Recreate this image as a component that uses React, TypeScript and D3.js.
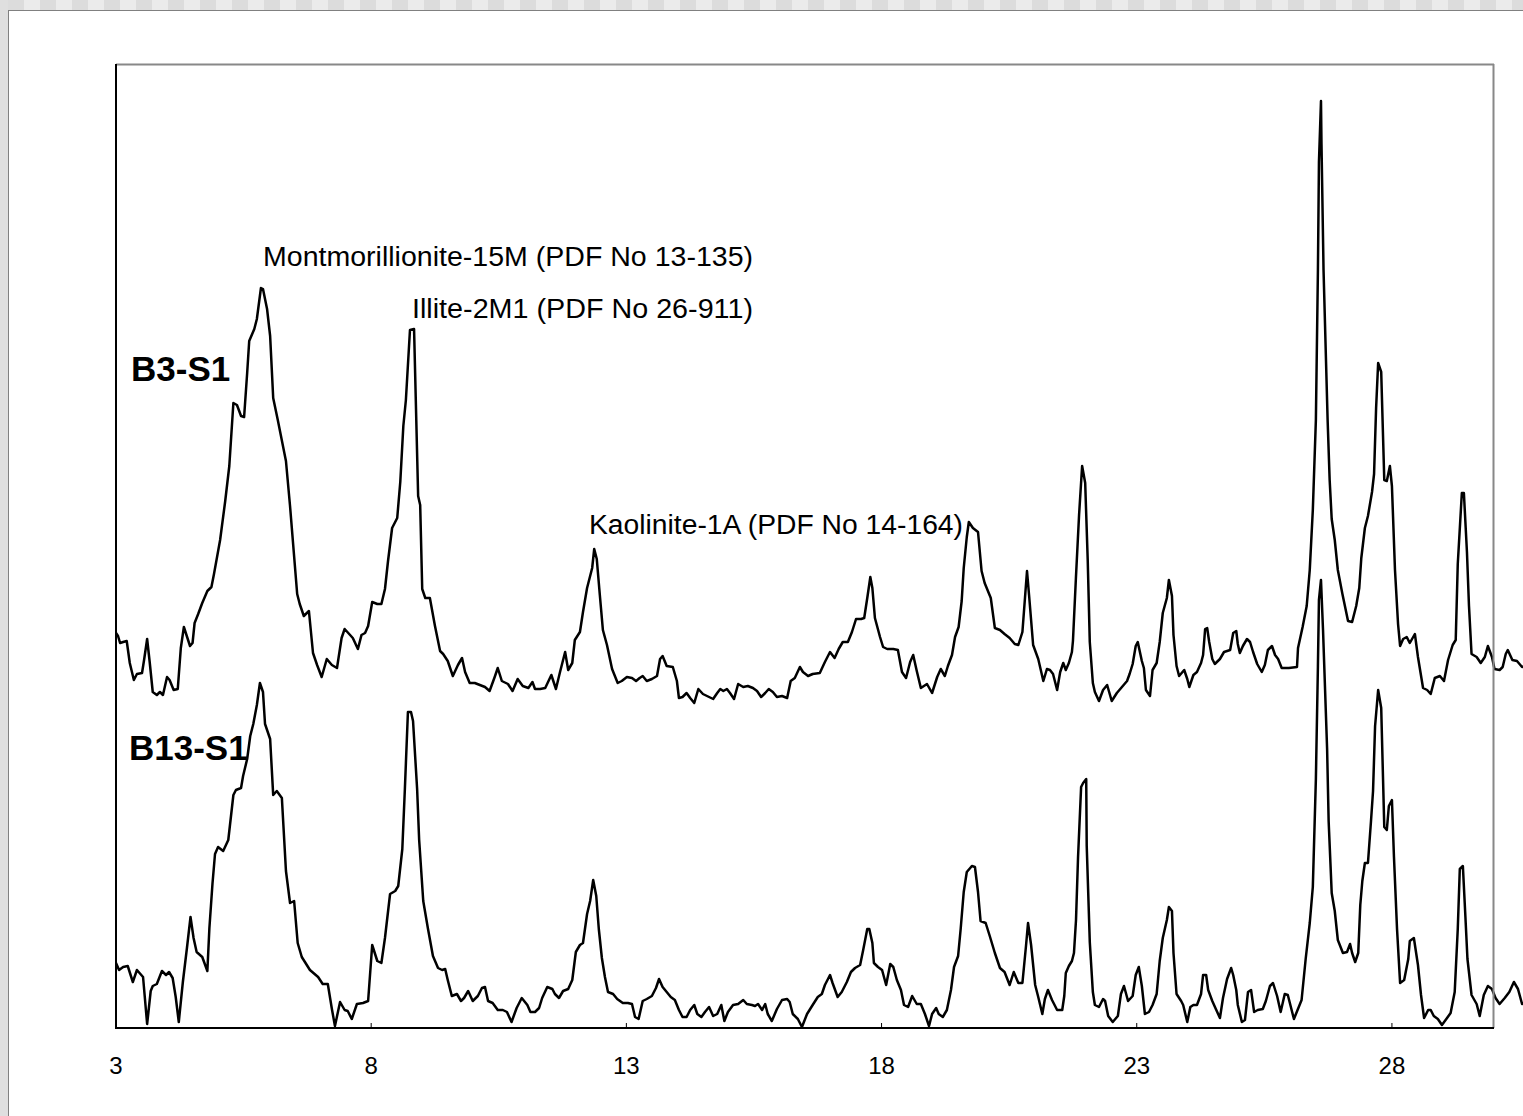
import React from "react";
import * as d3 from "d3";

const WIDTH = 1523;
const HEIGHT = 1116;

const twoThetaTicks = [3, 8, 13, 18, 23, 28];
const sampleNames = ["B3-S1", "B13-S1"];
const phaseNames = [
  "Montmorillionite-15M (PDF No 13-135)",
  "Illite-2M1 (PDF No 26-911)",
  "Kaolinite-1A (PDF No 14-164)",
];

// [2theta, intensity (a.u.)]
const b3s1: [number, number][] = [
  [3.00,395],[3.04,392],[3.08,385],[3.14,386],[3.21,387],[3.27,365],[3.35,348],[3.41,354],[3.51,355],[3.55,368],
  [3.61,389],[3.66,366],[3.72,336],[3.80,333],[3.86,336],[3.92,333],[4.00,351],[4.05,348],[4.13,338],[4.21,339],
  [4.27,380],[4.33,401],[4.45,382],[4.50,385],[4.54,405],[4.61,414],[4.69,425],[4.79,437],[4.87,441],[4.92,454],
  [5.04,488],[5.14,527],[5.22,562],[5.30,625],[5.37,623],[5.45,612],[5.51,611],[5.57,655],[5.61,687],[5.71,699],
  [5.76,709],[5.84,740],[5.88,739],[5.96,719],[6.02,692],[6.08,630],[6.17,608],[6.33,567],[6.41,522],[6.55,434],
  [6.60,424],[6.68,412],[6.78,417],[6.86,375],[6.94,363],[7.03,351],[7.13,369],[7.23,363],[7.33,360],[7.42,390],
  [7.48,399],[7.64,390],[7.74,379],[7.81,393],[7.88,395],[7.94,402],[8.02,426],[8.12,424],[8.20,424],[8.27,439],
  [8.33,467],[8.41,500],[8.51,510],[8.57,546],[8.63,602],[8.68,628],[8.76,698],[8.84,699],[8.92,532],[8.96,523],
  [9.00,439],[9.06,430],[9.15,430],[9.25,402],[9.35,377],[9.41,374],[9.50,367],[9.60,352],[9.70,363],[9.78,370],
  [9.84,356],[9.93,345],[10.03,345],[10.13,343],[10.23,341],[10.32,337],[10.42,351],[10.48,360],[10.56,347],[10.68,344],
  [10.77,337],[10.87,349],[10.97,342],[11.08,340],[11.16,346],[11.21,339],[11.31,339],[11.41,340],[11.53,353],[11.62,339],
  [11.70,356],[11.80,376],[11.86,358],[11.94,365],[11.99,388],[12.09,396],[12.15,416],[12.23,440],[12.33,460],[12.37,479],
  [12.42,469],[12.48,433],[12.54,398],[12.62,383],[12.72,359],[12.83,345],[12.91,347],[13.01,351],[13.11,350],[13.19,347],
  [13.26,350],[13.32,352],[13.40,347],[13.50,349],[13.60,352],[13.66,369],[13.71,372],[13.79,362],[13.91,361],[13.99,347],
  [14.03,330],[14.10,331],[14.18,335],[14.25,330],[14.33,325],[14.41,339],[14.50,334],[14.58,332],[14.70,329],[14.78,335],
  [14.84,339],[14.90,337],[14.97,339],[15.03,335],[15.11,329],[15.19,344],[15.29,341],[15.38,342],[15.48,340],[15.56,337],
  [15.64,331],[15.72,335],[15.79,339],[15.87,336],[15.95,331],[16.05,332],[16.15,330],[16.22,347],[16.30,350],[16.40,361],
  [16.46,356],[16.56,352],[16.65,354],[16.79,355],[16.89,366],[16.99,376],[17.08,370],[17.16,379],[17.24,386],[17.34,386],
  [17.42,396],[17.50,409],[17.60,409],[17.66,410],[17.72,430],[17.78,451],[17.82,440],[17.87,410],[17.97,391],[18.03,381],
  [18.11,379],[18.23,379],[18.32,378],[18.40,356],[18.48,350],[18.56,366],[18.62,373],[18.69,357],[18.77,340],[18.89,344],
  [18.99,335],[19.09,351],[19.16,359],[19.24,352],[19.30,362],[19.38,373],[19.44,391],[19.51,401],[19.57,427],[19.61,460],
  [19.67,491],[19.71,506],[19.79,500],[19.89,496],[19.96,457],[20.02,445],[20.14,430],[20.22,400],[20.32,398],[20.41,394],
  [20.51,390],[20.61,384],[20.68,383],[20.76,396],[20.81,430],[20.85,457],[20.89,433],[20.97,383],[21.07,369],[21.17,347],
  [21.24,359],[21.30,358],[21.36,354],[21.44,338],[21.50,356],[21.56,365],[21.61,358],[21.67,365],[21.73,376],[21.75,387],
  [21.81,452],[21.87,513],[21.93,562],[21.99,545],[22.04,467],[22.08,386],[22.14,345],[22.18,336],[22.26,327],[22.34,338],
  [22.42,343],[22.51,327],[22.61,335],[22.71,341],[22.81,347],[22.86,354],[22.92,364],[22.98,382],[23.02,386],[23.10,367],
  [23.14,360],[23.18,338],[23.26,332],[23.31,358],[23.39,365],[23.45,386],[23.51,415],[23.59,430],[23.63,448],[23.69,432],
  [23.72,393],[23.78,362],[23.83,352],[23.93,358],[23.99,349],[24.03,341],[24.11,353],[24.18,356],[24.26,365],[24.30,373],
  [24.34,399],[24.38,400],[24.42,386],[24.48,369],[24.53,364],[24.63,369],[24.71,376],[24.83,378],[24.89,395],[24.95,397],
  [24.98,384],[25.02,375],[25.08,382],[25.16,389],[25.22,386],[25.28,376],[25.36,364],[25.45,356],[25.51,363],[25.57,378],
  [25.65,382],[25.71,373],[25.77,369],[25.84,360],[25.98,360],[26.14,361],[26.16,380],[26.25,401],[26.33,422],[26.39,458],
  [26.45,518],[26.51,608],[26.55,758],[26.57,866],[26.61,927],[26.62,884],[26.66,758],[26.74,608],[26.78,548],[26.82,509],
  [26.88,488],[26.94,458],[27.03,434],[27.14,407],[27.22,406],[27.30,422],[27.36,440],[27.40,470],[27.47,500],[27.53,512],
  [27.61,536],[27.65,554],[27.69,620],[27.73,665],[27.79,656],[27.85,548],[27.90,547],[27.96,562],[28.00,542],[28.06,458],
  [28.12,404],[28.16,382],[28.22,389],[28.29,391],[28.35,385],[28.45,394],[28.51,371],[28.61,340],[28.69,338],[28.76,334],
  [28.84,350],[28.94,352],[29.02,347],[29.10,368],[29.19,383],[29.25,388],[29.29,464],[29.37,535],[29.41,535],[29.47,476],
  [29.51,422],[29.56,374],[29.66,371],[29.74,365],[29.82,371],[29.88,382],[29.96,371],[30.01,359],[30.11,358],[30.17,361],
  [30.23,374],[30.27,378],[30.36,368],[30.45,367],[30.55,361],[30.70,364],
];

const b13s1: [number, number][] = [
  [3.00,65],[3.06,58],[3.14,61],[3.23,62],[3.33,46],[3.41,58],[3.53,51],[3.61,4],[3.68,37],[3.72,42],
  [3.80,44],[3.90,57],[3.98,53],[4.04,56],[4.11,50],[4.17,31],[4.23,6],[4.31,46],[4.39,80],[4.46,111],
  [4.52,90],[4.58,76],[4.69,71],[4.79,57],[4.83,100],[4.89,144],[4.94,174],[5.00,181],[5.10,177],[5.20,188],
  [5.30,233],[5.35,238],[5.45,240],[5.49,252],[5.57,269],[5.63,292],[5.69,304],[5.76,323],[5.82,345],[5.88,336],
  [5.92,304],[6.02,289],[6.08,233],[6.15,237],[6.25,230],[6.33,157],[6.41,125],[6.49,127],[6.56,85],[6.64,71],
  [6.80,58],[6.96,51],[7.05,44],[7.15,44],[7.23,19],[7.29,2],[7.39,26],[7.48,18],[7.54,17],[7.62,9],
  [7.72,24],[7.84,25],[7.94,27],[8.02,83],[8.12,67],[8.20,65],[8.27,90],[8.37,134],[8.47,137],[8.53,142],
  [8.61,179],[8.66,239],[8.72,316],[8.78,316],[8.82,307],[8.90,239],[8.94,188],[9.02,127],[9.11,100],[9.21,72],
  [9.31,60],[9.39,58],[9.45,59],[9.50,48],[9.58,32],[9.68,34],[9.76,27],[9.82,30],[9.90,37],[9.99,27],
  [10.09,32],[10.17,40],[10.23,41],[10.29,27],[10.38,25],[10.48,18],[10.58,18],[10.66,16],[10.75,6],[10.85,20],
  [10.95,30],[11.06,23],[11.12,16],[11.21,16],[11.29,20],[11.35,30],[11.45,41],[11.55,39],[11.60,34],[11.68,30],
  [11.76,37],[11.86,39],[11.94,48],[12.01,76],[12.09,83],[12.15,85],[12.23,114],[12.29,127],[12.35,148],[12.41,132],
  [12.46,99],[12.52,70],[12.58,51],[12.64,36],[12.74,34],[12.82,29],[12.93,25],[13.03,25],[13.11,24],[13.17,11],
  [13.24,9],[13.32,27],[13.40,29],[13.50,32],[13.58,40],[13.64,49],[13.71,41],[13.79,36],[13.87,31],[13.95,28],
  [14.03,18],[14.10,11],[14.18,11],[14.25,18],[14.33,23],[14.39,14],[14.47,11],[14.54,16],[14.62,21],[14.70,12],
  [14.78,14],[14.86,23],[14.92,7],[14.99,16],[15.09,23],[15.19,24],[15.29,28],[15.36,24],[15.46,23],[15.52,22],
  [15.58,24],[15.66,18],[15.72,24],[15.77,14],[15.85,7],[15.95,19],[16.05,28],[16.15,29],[16.20,26],[16.26,14],
  [16.36,9],[16.44,1],[16.54,14],[16.65,23],[16.75,31],[16.83,34],[16.89,43],[16.99,53],[17.04,45],[17.14,31],
  [17.22,36],[17.32,46],[17.40,56],[17.48,60],[17.58,63],[17.64,78],[17.72,99],[17.76,99],[17.82,85],[17.85,65],
  [17.93,61],[18.01,58],[18.09,43],[18.17,64],[18.23,61],[18.30,48],[18.38,38],[18.44,23],[18.52,21],[18.60,32],
  [18.69,24],[18.77,24],[18.85,14],[18.93,2],[18.99,14],[19.07,20],[19.12,14],[19.20,11],[19.28,18],[19.36,38],
  [19.42,61],[19.50,72],[19.55,99],[19.61,136],[19.67,156],[19.77,162],[19.83,161],[19.89,136],[19.94,107],[20.04,105],
  [20.12,92],[20.22,75],[20.32,60],[20.41,56],[20.51,43],[20.59,56],[20.68,45],[20.76,45],[20.83,82],[20.87,105],
  [20.93,83],[21.01,43],[21.07,31],[21.15,14],[21.20,29],[21.26,38],[21.34,28],[21.44,18],[21.54,18],[21.58,32],
  [21.61,55],[21.67,62],[21.73,67],[21.77,75],[21.81,108],[21.85,171],[21.91,241],[21.95,245],[22.01,249],[22.02,182],
  [22.08,86],[22.14,36],[22.18,23],[22.26,21],[22.34,29],[22.38,27],[22.44,12],[22.53,6],[22.63,12],[22.69,34],
  [22.75,42],[22.83,27],[22.92,32],[22.98,53],[23.04,61],[23.10,42],[23.16,14],[23.24,16],[23.31,23],[23.39,34],
  [23.45,67],[23.51,90],[23.59,108],[23.63,121],[23.69,117],[23.72,75],[23.78,34],[23.87,27],[23.91,23],[23.99,6],
  [24.05,21],[24.11,23],[24.18,23],[24.26,34],[24.30,53],[24.36,53],[24.40,38],[24.48,27],[24.55,19],[24.63,10],
  [24.69,30],[24.77,49],[24.85,60],[24.89,53],[24.95,38],[24.98,23],[25.06,6],[25.12,8],[25.18,36],[25.24,38],
  [25.30,16],[25.37,18],[25.47,19],[25.53,27],[25.61,42],[25.67,45],[25.75,32],[25.82,16],[25.90,34],[25.96,33],
  [26.02,21],[26.08,9],[26.23,28],[26.31,69],[26.39,105],[26.45,141],[26.51,249],[26.55,362],[26.57,428],[26.61,448],
  [26.65,398],[26.73,279],[26.76,207],[26.82,135],[26.88,117],[26.94,88],[27.04,75],[27.12,76],[27.18,84],[27.22,75],
  [27.28,66],[27.34,75],[27.38,123],[27.42,147],[27.47,165],[27.53,165],[27.59,207],[27.63,237],[27.67,302],[27.73,338],
  [27.79,320],[27.85,201],[27.90,198],[27.94,222],[28.00,228],[28.04,171],[28.10,99],[28.16,45],[28.24,48],[28.32,69],
  [28.35,87],[28.43,90],[28.51,63],[28.57,33],[28.63,10],[28.71,18],[28.76,18],[28.82,12],[28.90,9],[28.98,3],
  [29.08,10],[29.15,15],[29.23,36],[29.29,99],[29.33,159],[29.39,162],[29.44,111],[29.48,69],[29.56,33],[29.66,24],
  [29.72,12],[29.80,33],[29.88,42],[29.96,39],[30.03,30],[30.11,24],[30.21,30],[30.30,36],[30.39,46],[30.47,39],
  [30.55,24],[30.70,30],
];

const FONT = "'Liberation Sans', Arial, sans-serif";

const App = () => {
  const left = 116;
  const right = 1494;
  const top = 65;
  const bottom = 1028;

  const x = d3.scaleLinear().domain([3, 30]).range([left, right]);
  const y = d3.scaleLinear().domain([0, 963]).range([bottom, top]);

  const line = d3
    .line<[number, number]>()
    .x((d) => x(d[0]))
    .y((d) => y(d[1]));

  // checkered strip along the top edge
  const tiles = d3.range(-8, WIDTH, 16);

  return (
    <div style={{ position: "absolute", left: 0, top: 0 }}>
      <svg width={WIDTH} height={HEIGHT} style={{ display: "block", background: "#fff" }}>
        {tiles.map((tx, i) => (
          <rect key={tx} x={tx} y={0} width={16} height={10} fill={i % 2 === 0 ? "#ebebeb" : "#dcdcdc"} />
        ))}
        <rect x={0} y={0} width={8} height={HEIGHT} fill="#dfdfdf" />
        <line x1={8.5} y1={10} x2={8.5} y2={HEIGHT} stroke="#808080" strokeWidth={1} />
        <line x1={8} y1={10.5} x2={WIDTH} y2={10.5} stroke="#808080" strokeWidth={1} />

        {/* plot frame */}
        <line x1={left} y1={64.5} x2={right} y2={64.5} stroke="#888" strokeWidth={2} />

        <path d={line(b3s1) || ""} fill="none" stroke="#000" strokeWidth={2.5} strokeLinejoin="round" />
        <path d={line(b13s1) || ""} fill="none" stroke="#000" strokeWidth={2.5} strokeLinejoin="round" />

        <line x1={right - 0.5} y1={64} x2={right - 0.5} y2={bottom} stroke="#888" strokeWidth={2} />
        <line x1={left} y1={64} x2={left} y2={bottom + 1} stroke="#000" strokeWidth={2} />
        <line x1={left} y1={bottom} x2={right} y2={bottom} stroke="#000" strokeWidth={2} />

        {twoThetaTicks.map((t) => (
          <g key={t}>
            <line x1={x(t)} y1={bottom} x2={x(t)} y2={bottom - 5} stroke="#000" strokeWidth={1} />
            <text x={x(t)} y={1074} textAnchor="middle" fontFamily={FONT} fontSize={24} fill="#000">
              {t}
            </text>
          </g>
        ))}

        <text x={131} y={381} fontFamily={FONT} fontSize={35} fontWeight="bold" fill="#000">
          {sampleNames[0]}
        </text>
        <text x={129} y={760} fontFamily={FONT} fontSize={35} fontWeight="bold" fill="#000">
          {sampleNames[1]}
        </text>

        <text x={263} y={266} fontFamily={FONT} fontSize={27} fill="#000"
          textLength={490} lengthAdjust="spacingAndGlyphs">
          {phaseNames[0]}
        </text>
        <text x={412} y={318} fontFamily={FONT} fontSize={27} fill="#000"
          textLength={341} lengthAdjust="spacingAndGlyphs">
          {phaseNames[1]}
        </text>
        <text x={589} y={534} fontFamily={FONT} fontSize={27} fill="#000"
          textLength={374} lengthAdjust="spacingAndGlyphs">
          {phaseNames[2]}
        </text>
      </svg>
    </div>
  );
};

export default App;
